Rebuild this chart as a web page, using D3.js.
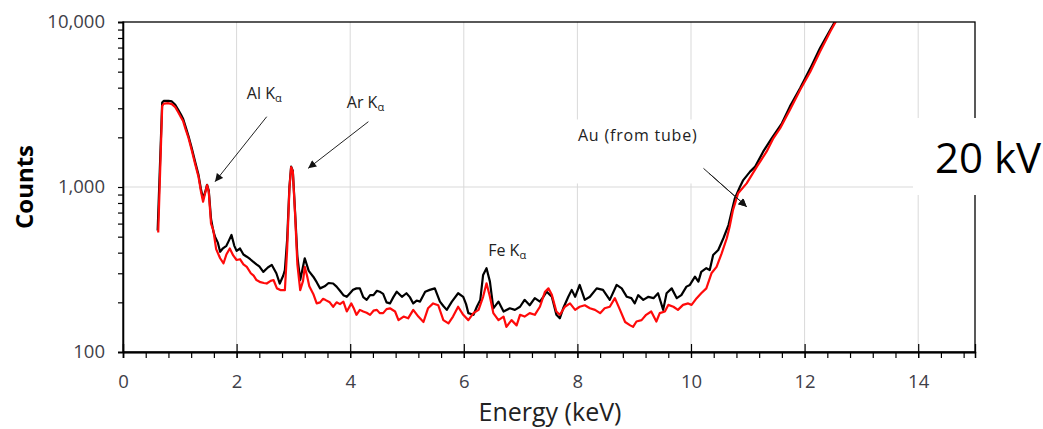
<!DOCTYPE html>
<html>
<head>
<meta charset="utf-8">
<script src="https://cdn.jsdelivr.net/npm/d3@7"></script>
<style>
  body { margin: 0; background: #fff; }
  svg { display: block; font-family: "Open Sans", sans-serif; }
</style>
</head>
<body>
<svg id="chart" width="1043" height="429"></svg>
<script>
// energies (keV) and counts, one pair of arrays per trace
const blackEnergy = [0.61,0.69,0.72,0.80,0.86,0.92,0.97,1.02,1.06,1.10,1.15,1.21,1.27,1.33,1.37,1.41,1.45,1.48,1.51,1.55,1.59,1.62,1.67,1.71,1.76,1.82,1.86,1.91,1.96,2.00,2.06,2.12,2.18,2.24,2.29,2.35,2.40,2.47,2.55,2.62,2.70,2.76,2.82,2.85,2.89,2.93,2.96,2.99,3.03,3.07,3.12,3.20,3.27,3.35,3.41,3.47,3.55,3.62,3.70,3.76,3.82,3.88,3.94,4.00,4.05,4.11,4.17,4.23,4.29,4.35,4.41,4.47,4.52,4.58,4.64,4.70,4.76,4.82,4.91,4.99,5.05,5.11,5.17,5.23,5.32,5.40,5.49,5.58,5.64,5.70,5.79,5.90,5.99,6.04,6.08,6.17,6.23,6.29,6.34,6.40,6.46,6.52,6.61,6.70,6.81,6.90,6.99,7.07,7.16,7.25,7.34,7.40,7.46,7.55,7.63,7.69,7.75,7.84,7.90,7.96,8.04,8.13,8.22,8.34,8.45,8.57,8.69,8.78,8.87,8.95,9.01,9.07,9.16,9.25,9.34,9.42,9.51,9.57,9.66,9.75,9.83,9.92,9.98,10.07,10.13,10.18,10.27,10.33,10.39,10.48,10.57,10.66,10.71,10.77,10.86,10.92,11.04,11.13,11.27,11.42,11.60,11.74,11.92,12.10,12.27,12.45,12.60];
const blackCounts = [545,3250,3330,3330,3300,3150,2950,2750,2580,2330,2050,1720,1420,1180,980,850,940,1030,950,640,540,500,460,405,425,440,470,512,440,410,424,390,378,365,353,340,330,306,325,337,300,260,290,314,480,1000,1330,1250,700,380,273,370,310,286,265,243,250,262,260,249,235,221,216,228,238,243,243,215,207,221,221,235,232,225,200,197,215,232,216,227,215,197,205,202,232,238,243,202,190,180,202,227,216,195,172,168,188,207,293,322,267,184,202,176,184,180,188,207,192,212,202,216,232,216,168,160,184,216,238,216,255,207,216,243,238,207,255,243,216,212,197,221,207,216,212,227,180,227,243,212,221,249,255,286,267,306,322,314,387,415,489,588,695,850,1000,1101,1239,1329,1637,1972,2432,3069,3965,5236,6930,8954,11000];

const redEnergy = [0.62,0.69,0.72,0.80,0.86,0.92,0.97,1.02,1.06,1.10,1.15,1.21,1.27,1.33,1.37,1.41,1.45,1.48,1.51,1.55,1.59,1.64,1.71,1.77,1.82,1.88,1.94,2.00,2.06,2.12,2.18,2.25,2.30,2.35,2.42,2.48,2.53,2.60,2.65,2.71,2.78,2.85,2.89,2.93,2.96,2.99,3.03,3.07,3.12,3.17,3.20,3.24,3.28,3.35,3.41,3.47,3.52,3.56,3.64,3.70,3.76,3.82,3.88,3.94,4.02,4.06,4.11,4.17,4.23,4.29,4.35,4.41,4.47,4.52,4.58,4.64,4.70,4.79,4.85,4.94,5.02,5.11,5.20,5.29,5.37,5.46,5.55,5.64,5.73,5.81,5.90,5.99,6.08,6.17,6.26,6.34,6.40,6.46,6.52,6.61,6.70,6.75,6.84,6.93,6.99,7.07,7.16,7.25,7.34,7.43,7.49,7.55,7.63,7.69,7.78,7.87,7.96,8.04,8.13,8.22,8.31,8.40,8.48,8.57,8.66,8.75,8.84,8.93,8.98,9.04,9.13,9.21,9.30,9.39,9.45,9.54,9.60,9.69,9.77,9.86,9.95,10.01,10.10,10.18,10.27,10.36,10.45,10.54,10.63,10.68,10.74,10.83,10.98,11.16,11.33,11.45,11.57,11.74,11.92,12.10,12.27,12.45,12.60];
const redCounts = [530,3100,3200,3220,3180,3050,2850,2650,2500,2250,2000,1670,1380,1150,950,815,930,1028,930,600,548,420,370,345,390,424,385,361,365,340,328,300,290,273,265,262,260,270,273,243,237,237,420,980,1320,1240,680,340,237,270,328,290,250,225,197,200,210,207,200,188,200,195,202,176,197,185,168,180,176,173,168,178,180,172,172,182,184,176,156,164,160,180,164,152,184,197,192,156,149,164,188,168,156,172,180,216,261,216,172,156,164,142,156,145,168,164,172,168,188,232,243,222,176,168,188,197,180,188,192,184,180,172,184,188,212,180,152,145,142,153,156,168,176,153,172,176,193,188,180,193,197,193,212,227,243,300,328,396,489,574,727,916,1052,1329,1637,1972,2270,2931,3873,5000,6607,8730,10800];

const xMajorTicks = [0, 2, 4, 6, 8, 10, 12, 14];
const yMajorTicks = [100, 1000, 10000];
const xGridTicks = [2, 4, 6, 8, 10, 12, 14];
const yGridTicks = [1000];

// labels: [text, energy, counts] at the label's left baseline
const peakLabels = [["Al K", 2.18, 3410], ["Ar K", 3.94, 3010], ["Fe K", 6.43, 382]];
// arrows: from [energy, counts] to [energy, counts]
const arrows = [
  [[2.53, 2667], [1.62, 1077]],
  [[4.32, 2488], [3.26, 1297]],
  [[10.22, 1297], [10.98, 760]]
];
const tubeLabel = ["Au (from tube)", 8.01, 1888];

const width = 1043, height = 429;
const margin = {top: 22, right: 68, bottom: 77, left: 123};
const innerWidth = width - margin.left - margin.right,
  innerHeight = height - margin.top - margin.bottom;

const svg = d3.select("#chart");

svg.append("defs").append("marker")
    .attr("id", "head")
    .attr("viewBox", "0 0 10 10")
    .attr("refX", 10).attr("refY", 5)
    .attr("markerWidth", 10).attr("markerHeight", 8)
    .attr("markerUnits", "userSpaceOnUse")
    .attr("orient", "auto")
  .append("path")
    .attr("d", "M0,0L10,5L0,10z")
    .attr("fill", "#111");

svg.select("defs").append("clipPath")
    .attr("id", "plotclip")
  .append("rect")
    .attr("width", innerWidth)
    .attr("height", innerHeight);

const g = svg.append("g")
    .attr("transform", "translate(" + margin.left + "," + margin.top + ")");

const x = d3.scaleLinear().domain([0, 15]).range([0, innerWidth]);
const y = d3.scaleLog().domain([100, 10000]).range([innerHeight, 0]);

// grid
g.append("g").selectAll("line")
    .data(xGridTicks)
  .enter().append("line")
    .attr("x1", d => x(d)).attr("x2", d => x(d))
    .attr("y1", 0).attr("y2", innerHeight)
    .attr("stroke", "#d9d9d9").attr("stroke-width", 1);

g.append("g").selectAll("line")
    .data(yGridTicks)
  .enter().append("line")
    .attr("x1", 0).attr("x2", innerWidth)
    .attr("y1", d => y(d)).attr("y2", d => y(d))
    .attr("stroke", "#d9d9d9").attr("stroke-width", 1);

// traces
const line = d3.line()
    .x(d => x(d[0]))
    .y(d => y(d[1]));

const traces = g.append("g").attr("clip-path", "url(#plotclip)");

traces.append("path")
    .datum(d3.zip(blackEnergy, blackCounts))
    .attr("fill", "none")
    .attr("stroke", "#000")
    .attr("stroke-width", 2.2)
    .attr("stroke-linejoin", "round")
    .attr("d", line);

traces.append("path")
    .datum(d3.zip(redEnergy, redCounts))
    .attr("fill", "none")
    .attr("stroke", "#ff0a0a")
    .attr("stroke-width", 2.2)
    .attr("stroke-linejoin", "round")
    .attr("d", line);

// frame
g.append("rect")
    .attr("width", innerWidth)
    .attr("height", innerHeight)
    .attr("fill", "none")
    .attr("stroke", "#000")
    .attr("stroke-width", 1.3);

// axes (the tick-only axes lose their empty labels)
g.append("g")
    .attr("transform", "translate(0," + innerHeight + ")")
    .call(d3.axisBottom(x).tickValues(d3.range(0, 15.01, 0.4)).tickSize(6))
    .call(a => a.selectAll("text").remove());

g.append("g")
    .attr("transform", "translate(0," + innerHeight + ")")
    .call(d3.axisBottom(x).tickValues(xMajorTicks).tickSize(-8))
    .call(a => a.selectAll("text").remove());

g.append("g")
    .attr("transform", "translate(0," + innerHeight + ")")
    .call(d3.axisBottom(x).tickValues(xMajorTicks).tickFormat(d3.format("d"))
      .tickSize(6).tickPadding(17))
    .attr("font-family", "Open Sans, sans-serif")
    .attr("font-size", 18.5);

const yMinor = [];
[100, 1000].forEach(dec => { for (let k = 2; k <= 9; k++) yMinor.push(dec * k); });
g.append("g")
    .call(d3.axisLeft(y).tickValues(yMinor).tickSize(5))
    .call(a => a.selectAll("text").remove());

g.append("g")
    .call(d3.axisLeft(y).tickValues(yMajorTicks).tickFormat(d3.format(","))
      .tickSize(5).tickPadding(13))
    .attr("font-family", "Open Sans, sans-serif")
    .attr("font-size", 18.5);

g.selectAll(".domain").attr("stroke", "#000").attr("stroke-width", 1.3);
g.selectAll(".tick line").attr("stroke", "#000").attr("stroke-width", 1.2);
g.selectAll(".tick text").attr("fill", "#404048");

// annotations
g.append("g").selectAll("line")
    .data(arrows)
  .enter().append("line")
    .attr("x1", d => x(d[0][0])).attr("y1", d => y(d[0][1]))
    .attr("x2", d => x(d[1][0])).attr("y2", d => y(d[1][1]))
    .attr("stroke", "#222").attr("stroke-width", 1)
    .attr("marker-end", "url(#head)");

const labels = g.append("g").selectAll("text")
    .data(peakLabels)
  .enter().append("text")
    .attr("x", d => x(d[1]))
    .attr("y", d => y(d[2]))
    .attr("font-size", 16)
    .attr("fill", "#222")
    .text(d => d[0]);
labels.append("tspan")
    .attr("font-size", 11)
    .attr("dy", 3)
    .text("α");

const tube = g.append("g");
tube.append("rect")
    .attr("x", x(tubeLabel[1]) - 3)
    .attr("y", y(tubeLabel[2]) - 22)
    .attr("width", 134)
    .attr("height", 64)
    .attr("fill", "#fff");
tube.append("text")
    .attr("x", x(tubeLabel[1]))
    .attr("y", y(tubeLabel[2]))
    .attr("font-size", 16)
    .attr("letter-spacing", 0.8)
    .attr("fill", "#222")
    .text(tubeLabel[0]);

// re-draw the tube arrow above its white box
g.append("line")
    .attr("x1", x(arrows[2][0][0])).attr("y1", y(arrows[2][0][1]))
    .attr("x2", x(arrows[2][1][0])).attr("y2", y(arrows[2][1][1]))
    .attr("stroke", "#222").attr("stroke-width", 1)
    .attr("marker-end", "url(#head)");

// axis titles
svg.append("text")
    .attr("transform", "translate(33," + (margin.top + y(1000)) + ") rotate(-90)")
    .attr("text-anchor", "middle")
    .attr("font-size", 24)
    .attr("font-weight", "bold")
    .attr("fill", "#000")
    .text("Counts");

svg.append("text")
    .attr("x", 550)
    .attr("y", 421)
    .attr("text-anchor", "middle")
    .attr("font-size", 25)
    .attr("fill", "#222")
    .text("Energy (keV)");

// voltage tag
svg.append("rect")
    .attr("x", 913).attr("y", 118)
    .attr("width", 130).attr("height", 77)
    .attr("fill", "#fff");
svg.append("text")
    .attr("x", 935).attr("y", 173)
    .attr("font-size", 42)
    .attr("fill", "#000")
    .text("20 kV");
</script>
</body>
</html>
